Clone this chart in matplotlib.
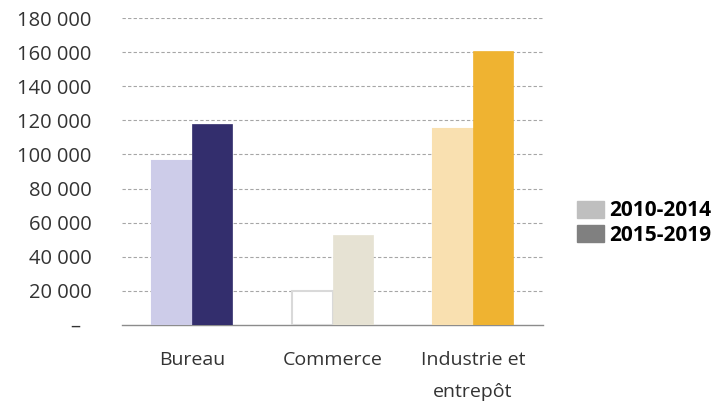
import matplotlib
matplotlib.use("Agg")
import matplotlib.pyplot as plt
import numpy as np
from matplotlib.patches import Patch

categories = ["Bureau", "Commerce", "Industrie et\nentrepôt"]
series_names = ["2010-2014", "2015-2019"]
values_2010 = [96000, 20000, 115000]
values_2015 = [118000, 53000, 160500]
yticks = [0, 20000, 40000, 60000, 80000, 100000, 120000, 140000, 160000, 180000]
ytick_labels = ["–  ", "20 000", "40 000", "60 000", "80 000", "100 000", "120 000", "140 000", "160 000", "180 000"]

colors_2010 = ["#CDCCE9", "#FFFFFF", "#F9E0B0"]
edges_2010 = ["#CDCCE9", "#D9D9D9", "#F9E0B0"]
colors_2015 = ["#332E6D", "#E6E2D3", "#EFB331"]
legend_colors = ["#BFBFBF", "#808080"]

plt.rcParams['font.family'] = ['Open Sans', 'DejaVu Sans']

fig = plt.figure(figsize=(7.26, 4.05), dpi=100)
ax = fig.add_axes([122/726, 1-325/405, (543-122)/726, (325-18)/405])

x = np.arange(len(categories))
w = 40/140
ax.bar(x - w/2, values_2010, width=w, color=colors_2010, edgecolor=edges_2010, linewidth=1.5, zorder=3)
ax.bar(x + w/2, values_2015, width=w, color=colors_2015, edgecolor=colors_2015, linewidth=0.5, zorder=3)

ax.set_xlim(-0.5, 2.5)
ax.set_ylim(0, 180000)
ax.set_yticks(yticks)
ax.set_yticklabels(ytick_labels, fontsize=14.5, color="#333333")
ax.set_xticks(x)
ax.set_xticklabels(categories, fontsize=14, color="#333333", linespacing=1.95)
ax.tick_params(axis='both', length=0)
ax.tick_params(axis='y', pad=22)
ax.tick_params(axis='x', pad=19)
for yt in yticks[1:]:
    ax.axhline(yt, color="#A6A6A6", linestyle=(0, (3, 2)), linewidth=0.8, zorder=1)
for s in ["top", "right", "left"]:
    ax.spines[s].set_visible(False)
ax.spines["bottom"].set_color("#8C8C8C")
ax.spines["bottom"].set_linewidth(1.0)

handles = [Patch(color=c) for c in legend_colors]
leg = fig.legend(handles, series_names, loc="center left", bbox_to_anchor=(562/726, 1-223/405),
                 frameon=False, prop={'weight': 'bold', 'size': 15}, handlelength=1.3, handleheight=0.9,
                 handletextpad=0.25, labelspacing=0.15, borderpad=0.2)

fig.savefig("out.png", dpi=100)
